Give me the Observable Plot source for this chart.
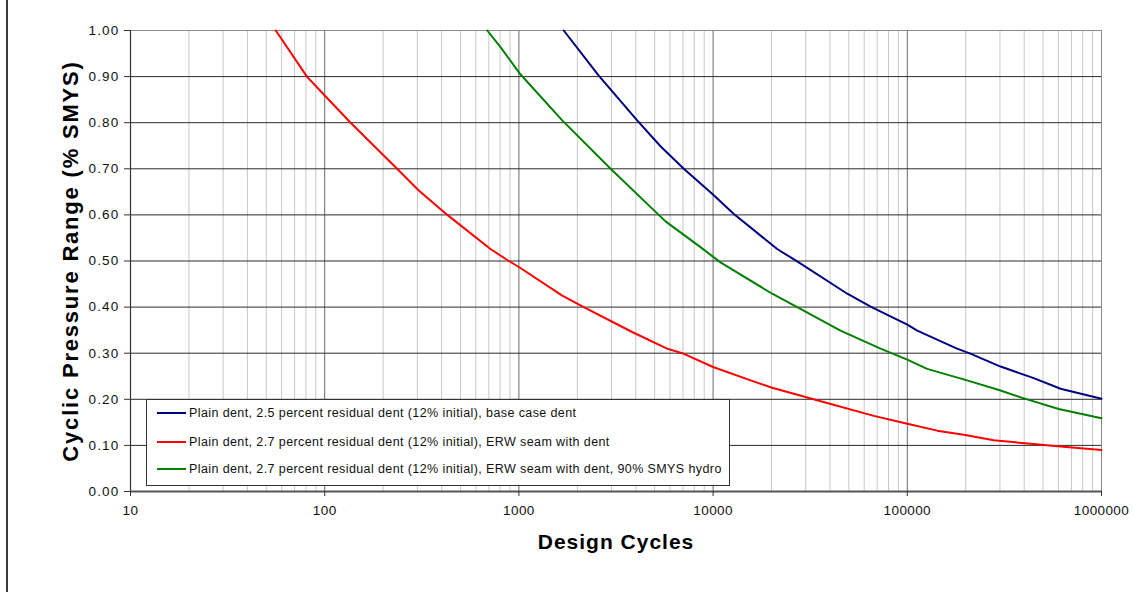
<!DOCTYPE html>
<html>
<head>
<meta charset="utf-8">
<script src="https://cdn.jsdelivr.net/npm/d3@7"></script>
<script src="https://cdn.jsdelivr.net/npm/@observablehq/plot@0.6"></script>
<style>
  html, body { margin: 0; padding: 0; background: #fff; }
  #wrap { position: relative; width: 1133px; height: 592px; overflow: hidden; font-family: "Liberation Sans", Arial, sans-serif; }
  #edge { position: absolute; left: 6px; top: 0; width: 2px; height: 592px; background: #3a3a3a; }
  #legend { position: absolute; left: 146px; top: 399px; width: 584px; height: 87px; border: 1px solid #333; background: #fff; box-sizing: border-box; }
  .item { position: absolute; left: 10px; height: 14px; display: flex; align-items: center; font-size: 12.5px; letter-spacing: 0.4px; color: #111; white-space: nowrap; }
  .item .sw { width: 29px; height: 2px; margin-right: 3px; }
  svg g[aria-label="y-axis tick label"] text { letter-spacing: 1.2px; }
  svg g[aria-label="x-axis tick label"] text { letter-spacing: 0.4px; }
</style>
</head>
<body>
<div id="wrap">
  <div id="chart"></div>
  <div id="edge"></div>
  <div id="legend"></div>
</div>
<script>
// ---- data ----
const seriesNames = [
  "Plain dent, 2.5 percent residual dent (12% initial), base case dent",
  "Plain dent, 2.7 percent residual dent (12% initial), ERW seam with dent",
  "Plain dent, 2.7 percent residual dent (12% initial), ERW seam with dent, 90% SMYS hydro"
];
const seriesColors = ["#000080", "#ff0000", "#008000"];

const baseCycles = [1702, 2576, 4064, 5358, 7063, 9886, 12790, 21380, 27100, 49090, 64710, 100000, 112500, 180300, 211300, 302000, 447700, 615200, 1000000];
const baseRange  = [1.00, 0.902, 0.805, 0.749, 0.700, 0.646, 0.602, 0.526, 0.499, 0.429, 0.401, 0.362, 0.349, 0.310, 0.299, 0.271, 0.246, 0.223, 0.201];

const erwCycles = [56, 81, 100, 136, 236, 305, 428, 714, 887, 1000, 1671, 2158, 3828, 5794, 6934, 10000, 15600, 20140, 38640, 67300, 100000, 142600, 195400, 278600, 447700, 591600, 1000000];
const erwRange  = [1.00, 0.90, 0.859, 0.80, 0.70, 0.653, 0.60, 0.526, 0.50, 0.487, 0.425, 0.40, 0.346, 0.310, 0.30, 0.270, 0.241, 0.225, 0.192, 0.164, 0.147, 0.132, 0.123, 0.111, 0.103, 0.098, 0.090];

const hydroCycles = [687, 804, 1018, 1671, 2965, 5248, 5689, 8610, 10910, 20140, 27100, 45290, 72780, 100000, 126500, 203200, 302000, 390800, 602600, 1000000];
const hydroRange  = [1.00, 0.964, 0.905, 0.805, 0.700, 0.600, 0.586, 0.530, 0.497, 0.429, 0.400, 0.349, 0.310, 0.286, 0.266, 0.241, 0.219, 0.203, 0.179, 0.159];

const xTicks = [10, 100, 1000, 10000, 100000, 1000000];
const minorSteps = [2, 3, 4, 5, 6, 7, 8, 9];
const yTicks = [0, 0.1, 0.2, 0.3, 0.4, 0.5, 0.6, 0.7, 0.8, 0.9, 1.0];

const xTitle = "Design Cycles";
const yTitle = "Cyclic Pressure Range (% SMYS)";

// ---- build tables ----
const toRows = (cycles, range, name) => cycles.map((c, i) => ({cycles: c, range: range[i], series: name}));
const rows = [
  ...toRows(baseCycles, baseRange, seriesNames[0]),
  ...toRows(erwCycles, erwRange, seriesNames[1]),
  ...toRows(hydroCycles, hydroRange, seriesNames[2])
];
const minorTicks = xTicks.slice(0, -1).flatMap(d => minorSteps.map(m => d * m));

const chart = Plot.plot({
  width: 1133,
  height: 592,
  marginLeft: 130,
  marginRight: 32,
  marginTop: 30,
  marginBottom: 101,
  style: {fontFamily: "'Liberation Sans', Arial, sans-serif", fontSize: "13px", color: "#111", background: "#fff"},
  x: {type: "log", domain: [10, 1000000]},
  y: {domain: [0, 1]},
  color: {domain: seriesNames, range: seriesColors},
  marks: [
    Plot.ruleX(minorTicks, {stroke: "#c8c8c8", strokeWidth: 1}),
    Plot.ruleX(xTicks, {stroke: "#6a6a6a", strokeWidth: 1}),
    Plot.ruleY(yTicks, {stroke: "#2a2a2a", strokeWidth: 1}),
    Plot.frame({stroke: "#8a8a8a", strokeWidth: 1}),
    Plot.ruleX([10], {stroke: "#333", strokeWidth: 1.2}),
    Plot.ruleY([0], {stroke: "#555", strokeWidth: 2}),
    Plot.line(rows, {x: "cycles", y: "range", z: "series", stroke: "series", strokeWidth: 2, curve: "linear"}),
    Plot.axisX({ticks: xTicks, tickFormat: d3.format("d"), tickSize: 5, tickPadding: 9, fontSize: 13.5, label: null, stroke: "#333"}),
    Plot.axisY({ticks: yTicks, tickFormat: d3.format(".2f"), tickSize: 6, tickPadding: 5, fontSize: 13.5, label: null, stroke: "#333"}),
    Plot.text([xTitle], {frameAnchor: "bottom", dy: 57, fontSize: 21, fontWeight: "bold", fill: "#000"}),
    Plot.text([yTitle], {frameAnchor: "left", dx: -60, rotate: -90, textAnchor: "middle", fontSize: 22, fontWeight: "bold", fill: "#000"})
  ]
});
document.getElementById("chart").appendChild(chart);

// letter spacing for axis titles
chart.querySelectorAll("text").forEach(t => {
  if (t.textContent === xTitle) t.style.letterSpacing = "1px";
  if (t.textContent === yTitle) t.style.letterSpacing = "1.8px";
});

// legend
const legend = document.getElementById("legend");
const itemTops = [6, 35, 62];
seriesNames.forEach((name, i) => {
  const it = document.createElement("div");
  it.className = "item";
  it.style.top = itemTops[i] + "px";
  const sw = document.createElement("span");
  sw.className = "sw";
  sw.style.background = seriesColors[i];
  const tx = document.createElement("span");
  tx.textContent = name;
  it.appendChild(sw);
  it.appendChild(tx);
  legend.appendChild(it);
});
</script>
</body>
</html>
